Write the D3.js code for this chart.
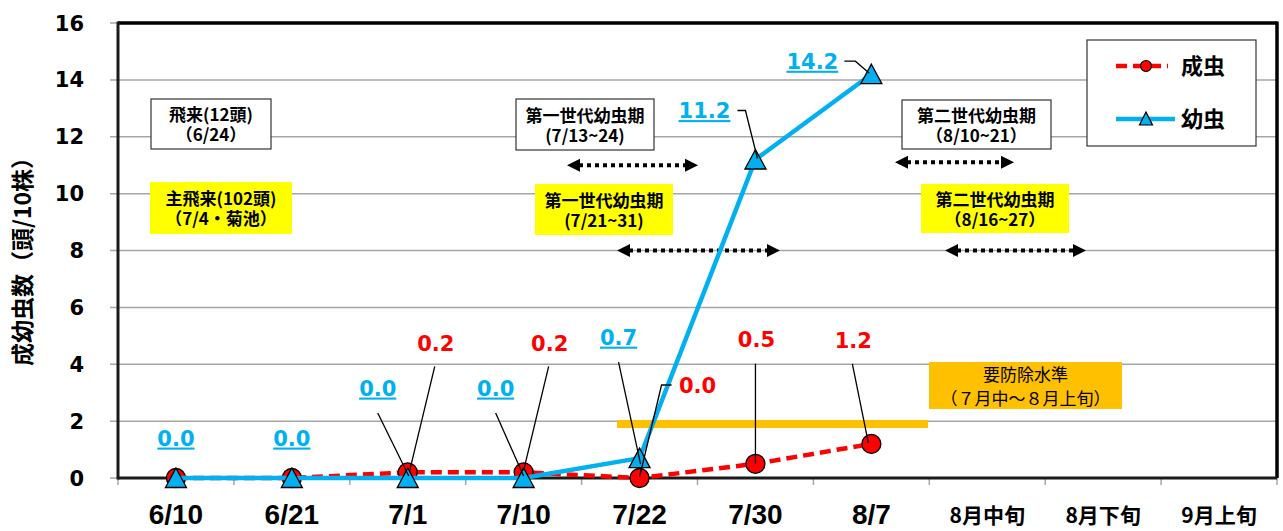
<!DOCTYPE html>
<html>
<head>
<meta charset="utf-8">
<script src="https://cdn.jsdelivr.net/npm/d3@7"></script>
<style>
  body { margin: 0; background: #fff; }
  svg { display: block; }
  .box-label {
    width: 100%; height: 100%;
    display: flex; flex-direction: column; justify-content: center; align-items: center;
    text-align: center;
    font-family: 'Noto Sans CJK JP', sans-serif;
    font-size: 17px; line-height: 20px; color: #000; white-space: nowrap;
  }
</style>
</head>
<body>
<svg id="chart"></svg>
<script>
const width = 1283;
const height = 531;

// data
const categories = ["6/10", "6/21", "7/1", "7/10", "7/22", "7/30", "8/7", "8月中旬", "8月下旬", "9月上旬"];
const adults = [0.0, 0.0, 0.2, 0.2, 0.0, 0.5, 1.2];   // 成虫
const larvae = [0.0, 0.0, 0.0, 0.0, 0.7, 11.2, 14.2];  // 幼虫
const yTicks = [0, 2, 4, 6, 8, 10, 12, 14, 16];

// label offsets from each point (label centre, then leader line points)
const adultLabels = [
  null, null,
  { dx: 28, dy: -129, lead: [[27, -106], [2, -2]] },
  { dx: 26, dy: -129, lead: [[25, -106], [0, -2]] },
  { dx: 58, dy: -93, lead: [[32, -93], [22, -93], [0, -1]] },
  { dx: 1, dy: -124, lead: [[0, -100], [0, 0]] },
  { dx: -18, dy: -103, lead: [[-19, -80], [-3, -1]] }
];
const larvaLabels = [
  { dx: 0, dy: -40 },
  { dx: 0, dy: -40 },
  { dx: -30, dy: -90, lead: [[-30, -65], [1, -2]] },
  { dx: -28, dy: -90, lead: [[-28, -65], [0, -2]] },
  { dx: -21, dy: -121, lead: [[-21, -96], [1, 6]] },
  { dx: -51, dy: -49, lead: [[-18, -49], [-10, -49], [2, -1]] },
  { dx: -59, dy: -13, lead: [[-27, -13], [-16, -13], [-2, -1]] }
];

const svg = d3.select("#chart")
    .attr("width", width)
    .attr("height", height);

const margin = { left: 118, right: 6, top: 23, bottom: 53 };

const x = d3.scaleBand()
    .domain(categories)
    .range([margin.left, width - margin.right])
    .padding(0);

const y = d3.scaleLinear()
    .domain([0, 16])
    .range([height - margin.bottom, margin.top]);

const cx = d => x(d) + x.bandwidth() / 2;

const RED = "#FF0000";
const BLUE = "#00B0F0";
const JP = "'Noto Sans CJK JP', sans-serif";
const NUM = "'DejaVu Sans', Verdana, sans-serif";

// grid lines
svg.append("g")
  .selectAll("line")
  .data(yTicks)
  .join("line")
    .attr("x1", margin.left - 8)
    .attr("x2", width - margin.right)
    .attr("y1", d => y(d))
    .attr("y2", d => y(d))
    .attr("stroke", "#A6A6A6")
    .attr("stroke-width", 1.5);

// y tick labels
svg.append("g")
  .selectAll("text")
  .data(yTicks)
  .join("text")
    .attr("x", 84)
    .attr("y", d => y(d))
    .attr("dy", "0.36em")
    .attr("text-anchor", "end")
    .attr("font-family", NUM)
    .attr("font-weight", "bold")
    .attr("font-size", 21)
    .attr("fill", "#000")
    .text(d => d);

// x ticks (band boundaries)
const bounds = categories.map(c => x(c)).concat([width - margin.right]);
svg.append("g")
  .selectAll("line")
  .data(bounds)
  .join("line")
    .attr("x1", d => d)
    .attr("x2", d => d)
    .attr("y1", y(0))
    .attr("y2", y(0) + 7)
    .attr("stroke", "#A6A6A6")
    .attr("stroke-width", 1.5);

// frame
const x0 = margin.left, x1 = width - margin.right;
svg.append("line").attr("x1", x0).attr("x2", x1).attr("y1", y(16)).attr("y2", y(16))
    .attr("stroke", "#000").attr("stroke-width", 3.5);
svg.append("line").attr("x1", x1).attr("x2", x1).attr("y1", y(16) - 1.5).attr("y2", y(0))
    .attr("stroke", "#000").attr("stroke-width", 3.5);
svg.append("line").attr("x1", x0).attr("x2", x0).attr("y1", y(16) - 1.5).attr("y2", y(0) + 1.5)
    .attr("stroke", "#1a1a1a").attr("stroke-width", 3);
svg.append("line").attr("x1", x0).attr("x2", x1).attr("y1", y(0)).attr("y2", y(0))
    .attr("stroke", "#1a1a1a").attr("stroke-width", 3);

// x labels
svg.append("g")
  .selectAll("text")
  .data(categories)
  .join("text")
    .attr("x", d => cx(d))
    .attr("y", d => /月/.test(d) ? 523 : 524)
    .attr("text-anchor", "middle")
    .attr("font-family", d => /月/.test(d) ? JP : "'Liberation Sans', Arial, sans-serif")
    .attr("font-weight", "bold")
    .attr("font-size", d => /月/.test(d) ? 21 : 28)
    .attr("fill", "#000")
    .text(d => d);

// y axis title
svg.append("text")
    .attr("transform", "translate(31,256) rotate(-90)")
    .attr("text-anchor", "middle")
    .attr("font-family", JP)
    .attr("font-weight", "bold")
    .attr("font-size", 23)
    .text("成幼虫数（頭/10株）");

// annotation boxes
const boxes = [
  { x: 151, y: 99, w: 120, h: 50, fill: "#fff", stroke: "#333", lines: ["飛来(12頭)", "（6/24）"], bold: true },
  { x: 150, y: 182, w: 142, h: 52, fill: "#FFFF00", stroke: "none", lines: ["主飛来(102頭)", "（7/4・菊池）"], bold: true },
  { x: 516, y: 99, w: 138, h: 51, fill: "#fff", stroke: "#333", lines: ["第一世代幼虫期", "(7/13~24)"], bold: true },
  { x: 535, y: 184, w: 138, h: 51, fill: "#FFFF00", stroke: "none", lines: ["第一世代幼虫期", "(7/21~31)"], bold: true },
  { x: 902, y: 100, w: 149, h: 49, fill: "#fff", stroke: "#333", lines: ["第二世代幼虫期", "（8/10~21）"], bold: true },
  { x: 921, y: 184, w: 148, h: 49, fill: "#FFFF00", stroke: "none", lines: ["第二世代幼虫期", "（8/16~27）"], bold: true },
  { x: 929, y: 362, w: 193, h: 47, fill: "#FFC000", stroke: "none", lines: ["要防除水準", "（７月中～８月上旬）"], bold: false }
];

// 要防除水準 line
svg.append("line")
    .attr("x1", 617).attr("x2", 928)
    .attr("y1", y(1.9)).attr("y2", y(1.9))
    .attr("stroke", "#FFC000")
    .attr("stroke-width", 8);

const boxG = svg.append("g")
  .selectAll("g")
  .data(boxes)
  .join("g");

boxG.append("rect")
    .attr("x", d => d.x)
    .attr("y", d => d.y)
    .attr("width", d => d.w)
    .attr("height", d => d.h)
    .attr("fill", d => d.fill)
    .attr("stroke", d => d.stroke)
    .attr("stroke-width", 1.2);

boxG.append("foreignObject")
    .attr("x", d => d.x)
    .attr("y", d => d.y)
    .attr("width", d => d.w)
    .attr("height", d => d.h)
  .append("xhtml:div")
    .attr("class", "box-label")
    .style("font-weight", d => d.bold ? "bold" : "normal")
    .style("line-height", d => d.bold ? "20px" : "24px")
    .html(d => d.lines.join("<br>"));

// dotted double arrows (x in px, y in chart units)
const arrows = [
  { a: 567, b: 698, v: 11.0 },
  { a: 617, b: 780, v: 8.0 },
  { a: 895, b: 1014, v: 11.1 },
  { a: 945, b: 1086, v: 8.0 }
];
const arrowG = svg.append("g")
  .selectAll("g")
  .data(arrows)
  .join("g");
arrowG.append("line")
    .attr("x1", d => d.a + 12)
    .attr("x2", d => d.b - 12)
    .attr("y1", d => y(d.v))
    .attr("y2", d => y(d.v))
    .attr("stroke", "#000")
    .attr("stroke-width", 4)
    .attr("stroke-dasharray", "4,4");
arrowG.append("path")
    .attr("d", d => {
      const yy = y(d.v);
      return `M${d.a},${yy} L${d.a + 13},${yy - 6.5} L${d.a + 13},${yy + 6.5} Z` +
             `M${d.b},${yy} L${d.b - 13},${yy - 6.5} L${d.b - 13},${yy + 6.5} Z`;
    })
    .attr("fill", "#000");

// series lines
const adultPts = adults.map((v, i) => [cx(categories[i]), y(v)]);
const larvaPts = larvae.map((v, i) => [cx(categories[i]), y(v)]);
const line = d3.line();

svg.append("path")
    .attr("d", line(adultPts))
    .attr("fill", "none")
    .attr("stroke", RED)
    .attr("stroke-width", 4.5)
    .attr("stroke-dasharray", "11,6");

svg.append("g")
  .selectAll("circle")
  .data(adultPts)
  .join("circle")
    .attr("cx", d => d[0])
    .attr("cy", d => d[1])
    .attr("r", 9.5)
    .attr("fill", RED)
    .attr("stroke", "#000")
    .attr("stroke-width", 1.3);

svg.append("path")
    .attr("d", line(larvaPts))
    .attr("fill", "none")
    .attr("stroke", BLUE)
    .attr("stroke-width", 4.5);

const tri = "M0,-10 L10.5,9.5 L-10.5,9.5 Z";
svg.append("g")
  .selectAll("path")
  .data(larvaPts)
  .join("path")
    .attr("d", tri)
    .attr("transform", d => `translate(${d[0]},${d[1]})`)
    .attr("fill", BLUE)
    .attr("stroke", "#000")
    .attr("stroke-width", 1.3);

// data labels with leader lines
const fmt = d3.format(".1f");
function drawLabels(pts, vals, specs, color, underline) {
  const g = svg.append("g");
  specs.forEach((s, i) => {
    if (!s) return;
    const [px, py] = pts[i];
    if (s.lead) {
      g.append("path")
        .attr("d", d3.line()(s.lead.map(p => [px + p[0], py + p[1]])))
        .attr("fill", "none")
        .attr("stroke", "#000")
        .attr("stroke-width", 1.3);
    }
    g.append("text")
      .attr("x", px + s.dx)
      .attr("y", py + s.dy)
      .attr("dy", "0.36em")
      .attr("text-anchor", "middle")
      .attr("font-family", NUM)
      .attr("font-weight", "bold")
      .attr("font-size", 21)
      .attr("fill", color)
      .style("text-decoration", underline ? "underline" : "none")
      .text(fmt(vals[i]));
  });
}
drawLabels(adultPts, adults, adultLabels, RED, false);
drawLabels(larvaPts, larvae, larvaLabels, BLUE, true);

// legend
const legend = svg.append("g");
legend.append("rect")
    .attr("x", 1087).attr("y", 40)
    .attr("width", 169).attr("height", 106)
    .attr("fill", "#fff")
    .attr("stroke", "#333")
    .attr("stroke-width", 1.2);
legend.append("line")
    .attr("x1", 1116).attr("x2", 1168).attr("y1", 66).attr("y2", 66)
    .attr("stroke", RED).attr("stroke-width", 4.5).attr("stroke-dasharray", "11,6");
legend.append("circle")
    .attr("cx", 1146).attr("cy", 66).attr("r", 5.5)
    .attr("fill", RED).attr("stroke", "#000").attr("stroke-width", 1.2);
legend.append("line")
    .attr("x1", 1116).attr("x2", 1175).attr("y1", 119).attr("y2", 119)
    .attr("stroke", BLUE).attr("stroke-width", 4.5);
legend.append("path")
    .attr("d", "M0,-7 L6.5,6 L-6.5,6 Z")
    .attr("transform", "translate(1146,119)")
    .attr("fill", BLUE).attr("stroke", "#000").attr("stroke-width", 1.2);
legend.selectAll("text.lg")
  .data([["成虫", 66], ["幼虫", 119]])
  .join("text")
    .attr("x", 1181)
    .attr("y", d => d[1])
    .attr("dy", "0.36em")
    .attr("font-family", JP)
    .attr("font-weight", "bold")
    .attr("font-size", 22)
    .text(d => d[0]);
</script>
</body>
</html>
